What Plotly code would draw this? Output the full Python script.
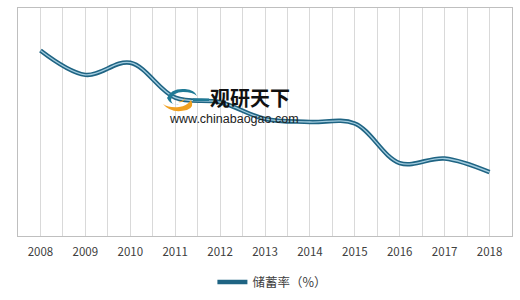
import plotly.graph_objects as go

years = ["2008", "2009", "2010", "2011", "2012", "2013", "2014", "2015", "2016", "2017", "2018"]
savings_rate = [52.2, 50.6, 51.4, 49.1, 48.8, 47.7, 47.5, 47.4, 44.8, 45.1, 44.2]
series_name = "储蓄率（%）"

x_idx = list(range(len(years)))

fig = go.Figure()
fig.add_trace(go.Scatter(
    x=x_idx, y=savings_rate, mode="lines", name=series_name,
    line=dict(color="#1f6483", width=4.5, shape="spline", smoothing=1.0),
    showlegend=True, hoverinfo="skip"))
fig.add_trace(go.Scatter(
    x=x_idx, y=savings_rate, mode="lines", name=series_name,
    line=dict(color="#a3cde0", width=1.3, shape="spline", smoothing=1.0),
    showlegend=False, hoverinfo="skip"))

L, R, T, B = 18, 8, 8, 64
W, H = 520, 300

fig.update_layout(
    width=W, height=H,
    margin=dict(l=L, r=R, t=T, b=B, autoexpand=False),
    paper_bgcolor="white", plot_bgcolor="white",
    font=dict(family="Noto Sans CJK SC, Liberation Sans, sans-serif", size=11, color="#404040"),
    showlegend=True,
    legend=dict(orientation="h", x=0.515, xanchor="center", y=-0.203, yanchor="middle",
                font=dict(size=12.5, color="#404040"), itemwidth=30,
                bgcolor="rgba(0,0,0,0)"),
    xaxis=dict(range=[-0.5, 10.5], tickmode="array", tickvals=x_idx, ticktext=years,
               showgrid=True, gridcolor="#d9d9d9", gridwidth=1,
               minor=dict(tick0=-0.5, dtick=1, showgrid=True, gridcolor="#d9d9d9", gridwidth=1),
               showline=True, linecolor="#bfbfbf", linewidth=1, mirror=True,
               ticks="", zeroline=False, tickfont=dict(size=11.5, color="#404040"),
               ticklabelstandoff=5, fixedrange=True),
    yaxis=dict(range=[40, 55], showgrid=False, showticklabels=False, zeroline=False,
               showline=True, linecolor="#bfbfbf", linewidth=1, mirror=True,
               ticks="", fixedrange=True),
)

# watermark text
fig.add_annotation(xref="paper", yref="paper", x=(208 - L) / 494, y=(236 - 97) / 228,
                   xanchor="left", yanchor="middle", text="<b>观研天下</b>", showarrow=False,
                   font=dict(size=20, color="#111111", family="Noto Sans CJK SC"))
fig.add_annotation(xref="paper", yref="paper", x=(234 - L) / 494, y=(236 - 119) / 228,
                   xanchor="center", yanchor="middle", text="www.chinabaogao.com", showarrow=False,
                   font=dict(size=12.5, color="#222222", family="Liberation Sans, Arial"))

# watermark logo (decoration), pixel-sized shapes anchored on paper
ax = (181 - L) / 494
ay = (236 - 100) / 228
fig.add_shape(type="path", xref="paper", yref="paper", xsizemode="pixel", ysizemode="pixel",
              xanchor=ax, yanchor=ay,
              path="M -18 -4 Q -10 -14 6 -10 Q 14 -7 10 0 Q 6 -6 -2 -7 Q -12 -8 -18 -4 Z",
              fillcolor="#f0a020", line=dict(width=0))
fig.add_shape(type="path", xref="paper", yref="paper", xsizemode="pixel", ysizemode="pixel",
              xanchor=ax, yanchor=ay,
              path="M -14 2 Q -10 12 4 11 Q 14 10 16 4 Q 12 8 2 8 Q -8 8 -10 0 Q -9 -6 -2 -4 Q -10 -6 -14 2 Z",
              fillcolor="#1f7a96", line=dict(width=0))
fig.add_shape(type="path", xref="paper", yref="paper", xsizemode="pixel", ysizemode="pixel",
              xanchor=ax, yanchor=ay,
              path="M 12 -1 L 28 -1 L 28 1.5 L 12 1.5 Z",
              fillcolor="#1f7a96", line=dict(width=0))
fig.add_shape(type="path", xref="paper", yref="paper", xsizemode="pixel", ysizemode="pixel",
              xanchor=ax, yanchor=ay,
              path="M -3 -2 Q 3 -3 4 2 Q 2 -1 -3 -2 Z",
              fillcolor="#f0a020", line=dict(width=0))

fig.write_html("out.html")
